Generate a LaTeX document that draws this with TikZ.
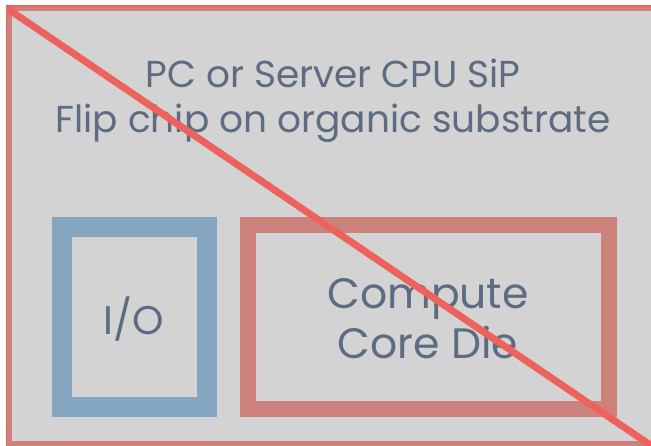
\documentclass[tikz,border=0pt]{standalone}
\usepackage{fontspec}
\setmainfont{Poppins}
\definecolor{bggray}{HTML}{D3D3D3}
\definecolor{mutedred}{HTML}{CD817D}
\definecolor{brightred}{HTML}{EE625D}
\definecolor{ioblue}{HTML}{84A6C1}
\definecolor{txt}{HTML}{5D6B83}
\tikzset{
  lbl/.style={text=txt, font=\fontsize{37.5}{45}\selectfont, align=center, inner sep=0pt},
  big/.style={text=txt, font=\fontsize{42.5}{50}\selectfont, align=center, inner sep=0pt},
}
\begin{document}
\begin{tikzpicture}[x=1pt,y=-1pt]
\useasboundingbox (0,0) rectangle (651,445);
\fill[white] (0,0) rectangle (651,445);
\fill[bggray] (7,6) rectangle (660,450);
\draw[brightred, line width=1.5pt] (6.5,6) rectangle (665,447);
\draw[mutedred, line width=4.5pt] (9.5,9.2) rectangle (662,443.5);
\node[lbl] (title) at (333,101) {PC or Server CPU SiP\\Flip chip on organic substrate};
\draw[ioblue, line width=20pt] (62,227) rectangle (207,407);
\draw[mutedred, line width=16pt] (248,225) rectangle (609,409);
\node[big,font=\fontsize{40}{50}\selectfont] (io) at (134,319) {I/O};
\node[big] (core) at (428,319) {Compute\\Core Die};
\draw[brightred, line width=7pt] (8,9) -- (662,453);
\end{tikzpicture}
\end{document}
